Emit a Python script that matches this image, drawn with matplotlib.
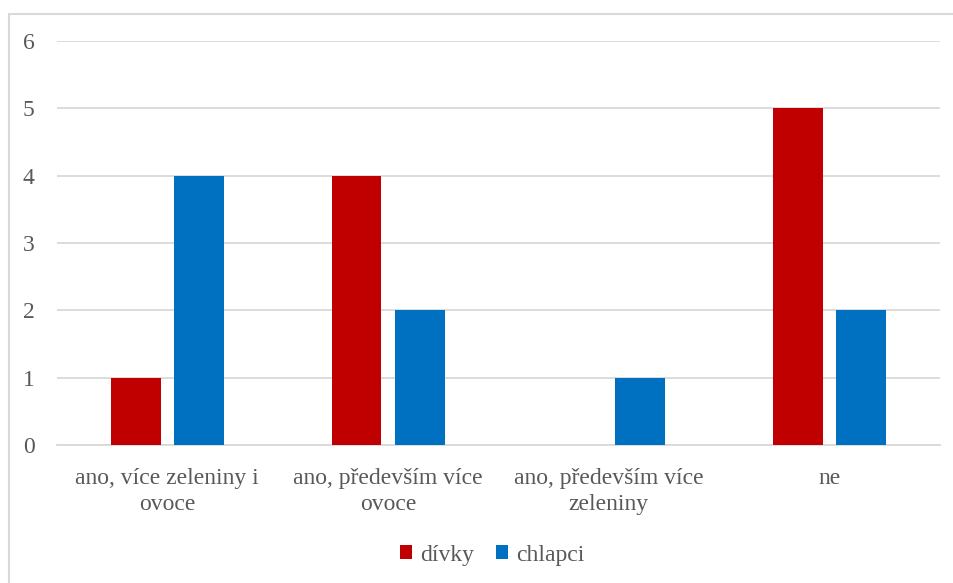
import numpy as np
import matplotlib.pyplot as plt
from matplotlib.patches import Rectangle

categories = ['ano, více zeleniny i\novoce', 'ano, především více\novoce',
              'ano, především více\nzeleniny', 'ne']
divky = [1, 4, 0, 5]
chlapci = [4, 2, 1, 2]

plt.rcParams['font.family'] = 'serif'
plt.rcParams['font.serif'] = ['Liberation Serif', 'Times New Roman', 'DejaVu Serif']
text_col = '#595959'
grid_col = '#D9D9D9'

fig = plt.figure(figsize=(9.54, 5.83), dpi=100)
ax = fig.add_axes([0.0597, 0.2367, 0.9256, 0.693])

x = np.arange(len(categories))
w = 0.226
off = 0.143
ax.bar(x - off, divky, w, color='#C00000', label='dívky', zorder=3)
ax.bar(x + off, chlapci, w, color='#0070C0', label='chlapci', zorder=3)

ax.set_xlim(-0.5, 3.5)
ax.set_ylim(0, 6)
ax.set_yticks(range(7))
ax.yaxis.grid(True, color=grid_col, linewidth=1.3, zorder=0)
for s in ['top', 'right', 'left']:
    ax.spines[s].set_visible(False)
ax.spines['bottom'].set_color(grid_col)
ax.spines['bottom'].set_linewidth(1.3)
ax.tick_params(length=0, labelsize=17, labelcolor=text_col)
ax.tick_params(axis='y', pad=16)
ax.tick_params(axis='x', pad=16.5)
ax.set_xticks(x)
ax.set_xticklabels(categories, linespacing=1.3)

leg = fig.legend(loc='center', bbox_to_anchor=(0.516, 0.048), ncol=2, frameon=False,
                 fontsize=17, handlelength=0.5, handleheight=0.5,
                 handletextpad=0.35, columnspacing=0.95)
for t in leg.get_texts():
    t.set_color(text_col)

# chart border
fig.patches.append(Rectangle((9 / 954, -0.1), 1.2, 1 - 14 / 583 + 0.1,
                             transform=fig.transFigure, fill=False,
                             edgecolor=grid_col, linewidth=1.5))

fig.savefig('out.png', dpi=100)
